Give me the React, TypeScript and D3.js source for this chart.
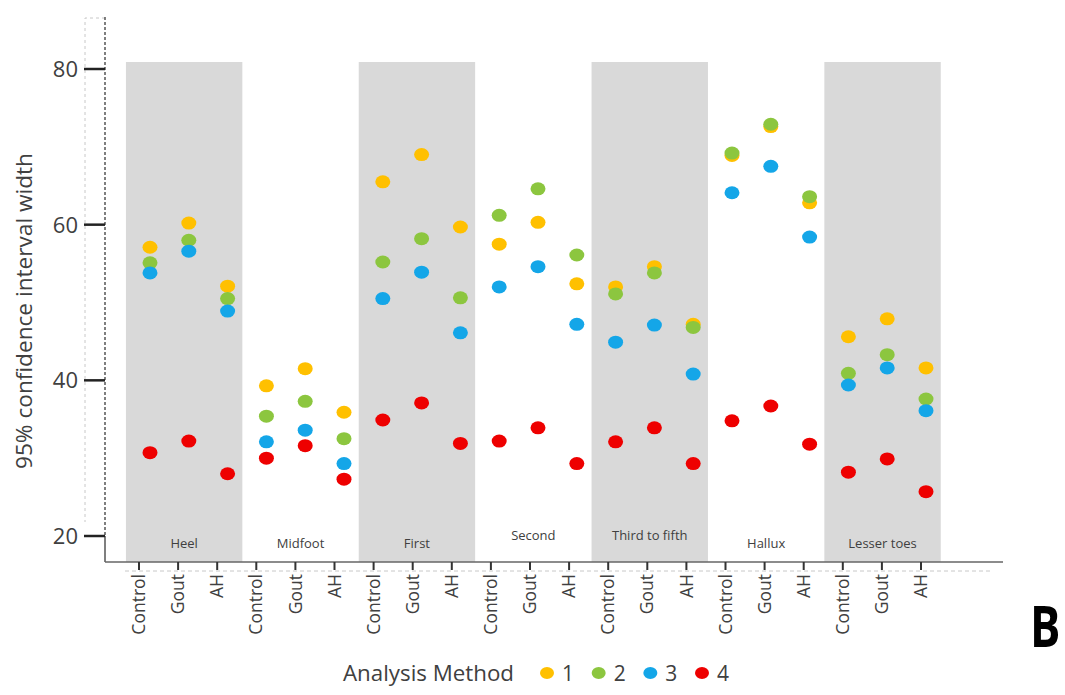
import React, { useEffect, useRef } from "react";
import * as d3 from "d3";

// foot regions and the three subject groups inside each
const groups = [ "Heel", "Midfoot", "First", "Second", "Third to fifth", "Hallux", "Lesser toes" ];
const conditions = [ "Control", "Gout", "AH" ];

// 95% CI width per analysis method, order: group x condition
const method1 = [ 57.1, 60.2, 52.1, 39.3, 41.5, 35.9, 65.5, 69.0, 59.7, 57.5, 60.3, 52.4, 52.0, 54.6, 47.2, 68.9, 72.6, 62.8, 45.6, 47.9, 41.6 ];
const method2 = [ 55.1, 58.0, 50.5, 35.4, 37.3, 32.5, 55.2, 58.2, 50.6, 61.2, 64.6, 56.1, 51.1, 53.8, 46.8, 69.2, 72.9, 63.6, 40.9, 43.3, 37.6 ];
const method3 = [ 53.8, 56.6, 48.9, 32.1, 33.6, 29.3, 50.5, 53.9, 46.1, 52.0, 54.6, 47.2, 44.9, 47.1, 40.8, 64.1, 67.5, 58.4, 39.4, 41.6, 36.1 ];
const method4 = [ 30.7, 32.2, 28.0, 30.0, 31.6, 27.3, 34.9, 37.1, 31.9, 32.2, 33.9, 29.3, 32.1, 33.9, 29.3, 34.8, 36.7, 31.8, 28.2, 29.9, 25.7 ];

const methodNames = [ "1", "2", "3", "4" ];
const yTicks = [ 20, 40, 60, 80 ];

const colors = [ "#FFC000", "#8CC63F", "#14A6E8", "#EE0000" ];
const font = "'Open Sans', 'Noto Sans', sans-serif";

export default function App() {

	const ref = useRef<SVGSVGElement>( null );

	useEffect( () => {

		const svg = d3.select( ref.current );
		svg.selectAll( "*" ).remove();

		const series = [ method1, method2, method3, method4 ];
		const n = groups.length * conditions.length;

		const x = d3.scaleLinear().domain( [ 0, n - 1 ] ).range( [ 150, 926 ] );
		// tick marks sit slightly left of the dots in the original
		const xTick = d3.scaleLinear().domain( [ 0, n - 1 ] ).range( [ 139, 921 ] );
		const y = d3.scaleLinear().domain( [ 20, 80 ] ).range( [ 536, 69 ] );

		const plotTop = 62, plotBottom = 562, axisX = 105, axisRight = 1003;

		// grey bands behind every other group
		svg.append( "g" )
			.selectAll( "rect" )
			.data( groups.filter( ( d, i ) => i % 2 === 0 ) )
			.join( "rect" )
				.attr( "x", d => x( groups.indexOf( d ) * 3 - 0.62 ) )
				.attr( "y", plotTop )
				.attr( "width", d => x( groups.indexOf( d ) * 3 + 2.38 ) - x( groups.indexOf( d ) * 3 - 0.62 ) )
				.attr( "height", plotBottom - plotTop )
				.attr( "fill", "#D9D9D9" );

		// group labels
		const labelShift = [ 0, 0, 0, -8, -8, 0, 0 ];
		svg.append( "g" )
			.selectAll( "text" )
			.data( groups )
			.join( "text" )
				.attr( "x", ( d, i ) => ( x( i * 3 - 0.62 ) + x( i * 3 + 2.38 ) ) / 2 )
				.attr( "y", ( d, i ) => 548 + labelShift[ i ] )
				.attr( "text-anchor", "middle" )
				.attr( "font-family", font )
				.attr( "font-size", 13 )
				.attr( "fill", "#404040" )
				.text( d => d );

		// faint dashed frame left over in the original figure
		svg.append( "path" )
			.attr( "d", `M${ axisX },18H85V522` )
			.attr( "fill", "none" )
			.attr( "stroke", "#C8C8C8" )
			.attr( "stroke-dasharray", "3,3" );

		svg.append( "line" )
			.attr( "x1", 125 ).attr( "x2", 990 )
			.attr( "y1", 571 ).attr( "y2", 571 )
			.attr( "stroke", "#C8C8C8" )
			.attr( "stroke-dasharray", "4,3" );

		// y axis
		svg.append( "line" )
			.attr( "x1", axisX ).attr( "x2", axisX )
			.attr( "y1", 17 ).attr( "y2", y( 20 ) )
			.attr( "stroke", "#555" )
			.attr( "stroke-width", 1.5 )
			.attr( "stroke-dasharray", "3,2" );

		svg.append( "line" )
			.attr( "x1", axisX ).attr( "x2", axisX )
			.attr( "y1", y( 20 ) ).attr( "y2", plotBottom )
			.attr( "stroke", "#555" )
			.attr( "stroke-width", 1.5 );

		const yAxis = svg.append( "g" );

		yAxis.selectAll( "line" )
			.data( yTicks )
			.join( "line" )
				.attr( "x1", 84 ).attr( "x2", axisX )
				.attr( "y1", d => y( d ) ).attr( "y2", d => y( d ) )
				.attr( "stroke", "#222" )
				.attr( "stroke-width", 2.5 );

		yAxis.selectAll( "text" )
			.data( yTicks )
			.join( "text" )
				.attr( "x", 78 )
				.attr( "y", d => y( d ) )
				.attr( "dy", "0.36em" )
				.attr( "text-anchor", "end" )
				.attr( "font-family", font )
				.attr( "font-size", 22 )
				.attr( "fill", "#404040" )
				.text( d => d );

		svg.append( "text" )
			.attr( "transform", "translate( 25, 311 ) rotate( -90 )" )
			.attr( "dy", "0.35em" )
			.attr( "text-anchor", "middle" )
			.attr( "font-family", font )
			.attr( "font-size", 21 )
			.attr( "textLength", 316 )
			.attr( "lengthAdjust", "spacingAndGlyphs" )
			.attr( "fill", "#404040" )
			.text( "95% confidence interval width" );

		// x axis
		svg.append( "line" )
			.attr( "x1", axisX ).attr( "x2", axisRight )
			.attr( "y1", plotBottom ).attr( "y2", plotBottom )
			.attr( "stroke", "#666" )
			.attr( "stroke-width", 1.5 );

		const ticks = d3.range( n );
		const xAxis = svg.append( "g" );

		xAxis.selectAll( "line" )
			.data( ticks )
			.join( "line" )
				.attr( "x1", d => xTick( d ) ).attr( "x2", d => xTick( d ) )
				.attr( "y1", plotBottom ).attr( "y2", plotBottom + 8 )
				.attr( "stroke", "#333" )
				.attr( "stroke-width", 2 );

		xAxis.selectAll( "text" )
			.data( ticks )
			.join( "text" )
				.attr( "transform", d => "translate(" + xTick( d ) + ",574) rotate(-90)" )
				.attr( "dy", "0.35em" )
				.attr( "text-anchor", "end" )
				.attr( "font-family", font )
				.attr( "font-size", 17.5 )
				.attr( "fill", "#404040" )
				.text( d => conditions[ d % 3 ] );

		// dots, drawn in method order so method 4 ends on top
		series.forEach( ( values, s ) => {
			svg.append( "g" )
				.selectAll( "ellipse" )
				.data( values )
				.join( "ellipse" )
					.attr( "cx", ( d, i ) => x( i ) )
					.attr( "cy", d => y( d ) )
					.attr( "rx", 7.5 )
					.attr( "ry", 6.5 )
					.attr( "fill", colors[ s ] );
		});

		// legend
		const legend = svg.append( "g" );

		legend.append( "text" )
			.attr( "x", 343 )
			.attr( "y", 681 )
			.attr( "font-family", font )
			.attr( "font-size", 21 )
			.attr( "textLength", 171 )
			.attr( "lengthAdjust", "spacingAndGlyphs" )
			.attr( "fill", "#404040" )
			.text( "Analysis Method" );

		const lx = d3.scaleLinear().domain( [ 0, 3 ] ).range( [ 547, 702 ] );

		legend.selectAll( "ellipse" )
			.data( methodNames )
			.join( "ellipse" )
				.attr( "cx", ( d, i ) => lx( i ) )
				.attr( "cy", 673 )
				.attr( "rx", 7 )
				.attr( "ry", 6 )
				.attr( "fill", ( d, i ) => colors[ i ] );

		legend.selectAll( "text.item" )
			.data( methodNames )
			.join( "text" )
				.attr( "class", "item" )
				.attr( "x", ( d, i ) => lx( i ) + 15 )
				.attr( "y", 681 )
				.attr( "font-family", font )
				.attr( "font-size", 21 )
				.attr( "fill", "#404040" )
				.text( d => d );

		// panel letter, narrowed to match the condensed face of the original
		svg.append( "text" )
			.attr( "transform", "translate( 1030, 647 ) scale( 0.78, 1 )" )
			.attr( "font-family", font )
			.attr( "font-weight", "bold" )
			.attr( "font-size", 58 )
			.attr( "fill", "#000" )
			.text( "B" );

	}, [] );

	return (
		<svg
			ref={ ref }
			width={ 1065 }
			height={ 695 }
			style={ { position: "absolute", left: 0, top: 0, background: "#fff" } }
		/>
	);
}
